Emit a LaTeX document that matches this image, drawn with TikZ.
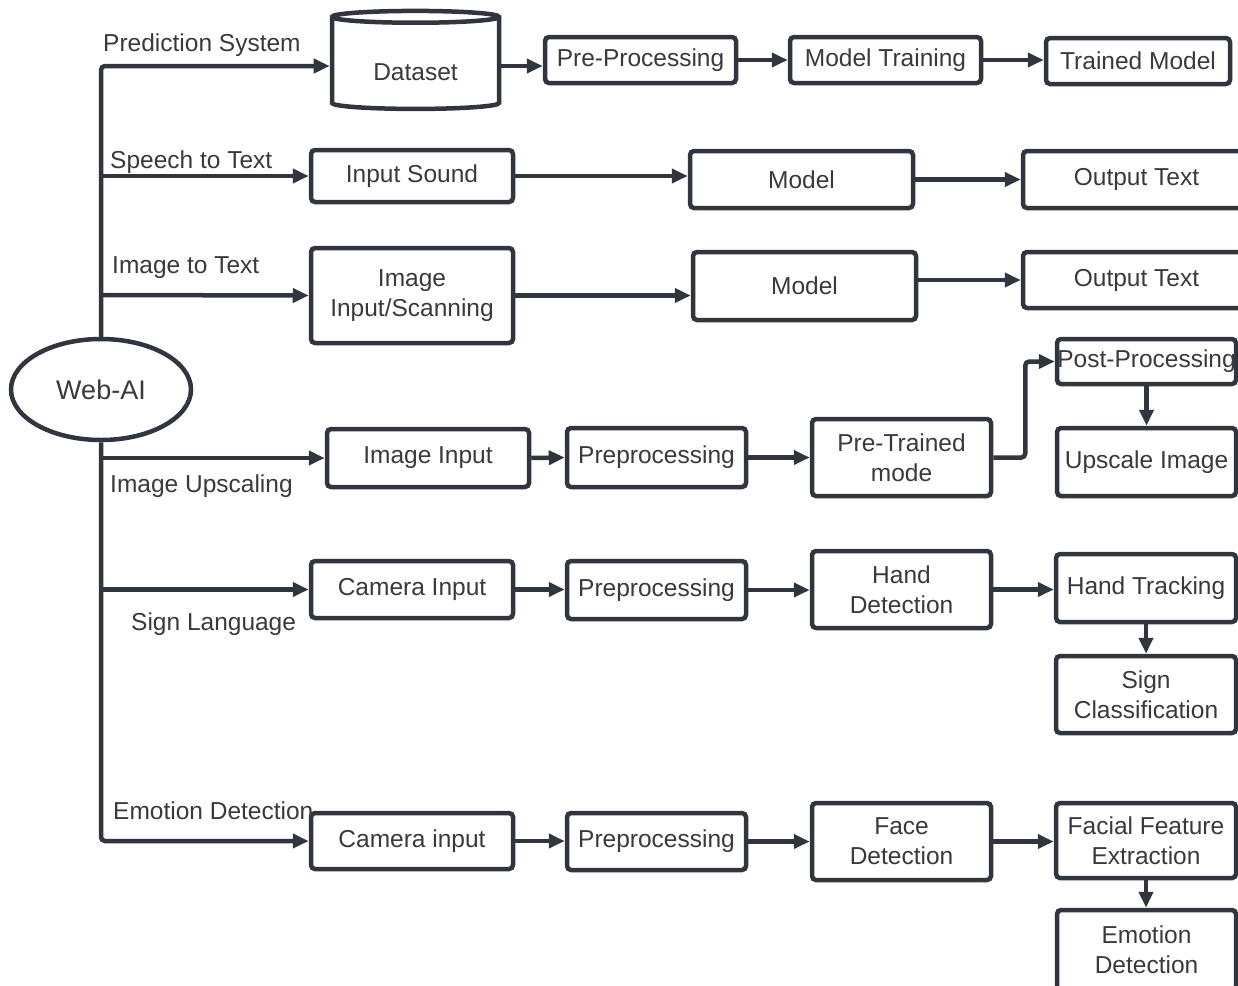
\documentclass[tikz,border=0pt]{standalone}
\usepackage{fontspec}
\setmainfont{Liberation Sans}
\usetikzlibrary{shapes.geometric,arrows.meta}
\definecolor{ln}{HTML}{30353E}
\definecolor{tx}{HTML}{3A3A3A}
\begin{document}
\begin{tikzpicture}[x=1pt,y=-1pt,
  every node/.style={font=\fontsize{24.5}{30}\selectfont, text=tx},
  box/.style={draw=ln, line width=4.5pt, rounded corners=4pt, inner sep=0pt, align=center, fill=white},
  arr/.style={draw=ln, line width=4.5pt, -{Triangle[length=16pt,width=14pt]}, rounded corners=4pt},
  lbl/.style={anchor=west, inner sep=0pt}]
\clip (0,0) rectangle (1238,985);
\fill[white] (0,0) rectangle (1238,985);
% root
\node[draw=ln, line width=4.5pt, ellipse, minimum width=180pt, minimum height=101pt, inner sep=0pt, font=\fontsize{27}{32}\selectfont] (webai) at (101,389.5) {Web-AI};
% row 1
\node[draw=ln, line width=4.5pt, cylinder, shape border rotate=90, aspect=0.14, minimum width=167pt, minimum height=98pt, inner sep=0pt, fill=white] (dataset) at (415.5,64) {\raisebox{-8pt}[\height][\depth]{Dataset}};
\node[box, minimum width=191pt, minimum height=46pt] (pre) at (640.5,60) {Pre-Processing};
\node[box, minimum width=191pt, minimum height=46pt] (mtrain) at (885.5,60) {Model Training};
\node[box, minimum width=184pt, minimum height=46pt] (trained) at (1138,61) {Trained Model};
% row 2
\node[box, minimum width=202pt, minimum height=52pt] (isound) at (412,176) {Input Sound};
\node[box, minimum width=223pt, minimum height=57pt] (model1) at (801.5,179.5) {Model};
\node[box, minimum width=227pt, minimum height=57pt] (out1) at (1136.5,179.5) {Output Text};
% row 3
\node[box, minimum width=202pt, minimum height=95pt] (iis) at (412,295.5) {Image\\Input/Scanning};
\node[box, minimum width=223pt, minimum height=68pt] (model2) at (804.5,286) {Model};
\node[box, minimum width=227pt, minimum height=56pt] (out2) at (1136.5,280) {Output Text};
% row 4
\node[box, minimum width=202pt, minimum height=58pt] (imgin) at (428,458) {Image Input};
\node[box, minimum width=179pt, minimum height=59pt] (pp1) at (656.5,457.5) {Preprocessing};
\node[box, minimum width=179pt, minimum height=77pt] (ptm) at (901.5,457.5) {Pre-Trained\\mode};
\node[box, minimum width=179pt, minimum height=45pt] (post) at (1146.5,361.5) {Post-Processing};
\node[box, minimum width=179pt, minimum height=68pt] (upscale) at (1146.5,462) {Upscale Image};
% row 5
\node[box, minimum width=202pt, minimum height=57pt] (camin) at (412,589.5) {Camera Input};
\node[box, minimum width=179pt, minimum height=58pt] (pp2) at (656.5,590) {Preprocessing};
\node[box, minimum width=179pt, minimum height=77pt] (hand) at (901.5,589.5) {Hand\\Detection};
\node[box, minimum width=180pt, minimum height=68pt] (track) at (1146,588) {Hand Tracking};
\node[box, minimum width=180pt, minimum height=77pt] (signc) at (1146,694.5) {Sign\\Classification};
% row 6
\node[box, minimum width=202pt, minimum height=56pt] (camin2) at (412,841) {Camera input};
\node[box, minimum width=179pt, minimum height=57pt] (pp3) at (656.5,841.5) {Preprocessing};
\node[box, minimum width=179pt, minimum height=77pt] (face) at (901.5,841.5) {Face\\Detection};
\node[box, minimum width=180pt, minimum height=75pt] (ffe) at (1146,840.5) {Facial Feature\\Extraction};
\node[box, minimum width=179pt, minimum height=80pt] (emo) at (1146.5,950) {Emotion\\Detection};
% trunk and branches
\coordinate (tIS) at (101,295);
\draw[arr] (webai.north) |- (dataset.west |- 0,66);
\draw[arr] (webai.north |- isound) -- (isound.west);
\draw[arr] (tIS) -- (iis.west);
\draw[arr] (webai.south) |- (camin2.west);
\draw[arr] (webai.south |- imgin) -- (imgin.west);
\draw[arr] (webai.south |- camin) -- (camin.west);
% labels
\node[lbl] (l1) at (103,45) {Prediction System};
\node[lbl] (l2) at (110,162) {Speech to Text};
\node[lbl] (l3) at (112,268) {Image to Text};
\node[lbl] (l4) at (110,486) {Image Upscaling};
\node[lbl] (l5) at (131,624) {Sign Language};
\node[lbl] (l6) at (113,811) {Emotion Detection};
% row connectors
\draw[arr] (dataset.east |- 0,66) -- (pre.west |- 0,66);
\draw[arr] (pre.east) -- (mtrain.west);
\draw[arr] (mtrain.east) -- (trained.west |- mtrain.east);
\draw[arr] (isound.east) -- (isound.east -| model1.west);
\draw[arr] (model1.east) -- (out1.west);
\draw[arr] (iis.east) -- (iis.east -| model2.west);
\draw[arr] (model2.east |- out2) -- (out2.west);
\draw[arr] (imgin.east) -- (pp1.west);
\draw[arr] (pp1.east) -- (ptm.west);
\draw[arr] (ptm.east) -- ++(32,0) |- (post.west);
\draw[arr] (post.south) -- (upscale.north);
\draw[arr] (camin.east) -- (camin.east -| pp2.west);
\draw[arr] (pp2.east) -- (pp2.east -| hand.west);
\draw[arr] (hand.east) -- (hand.east -| track.west);
\draw[arr] (track.south) -- (signc.north);
\draw[arr] (camin2.east) -- (camin2.east -| pp3.west);
\draw[arr] (pp3.east) -- (pp3.east -| face.west);
\draw[arr] (face.east) -- (face.east -| ffe.west);
\draw[arr] (ffe.south) -- (ffe.south |- emo.north);
\end{tikzpicture}
\end{document}
